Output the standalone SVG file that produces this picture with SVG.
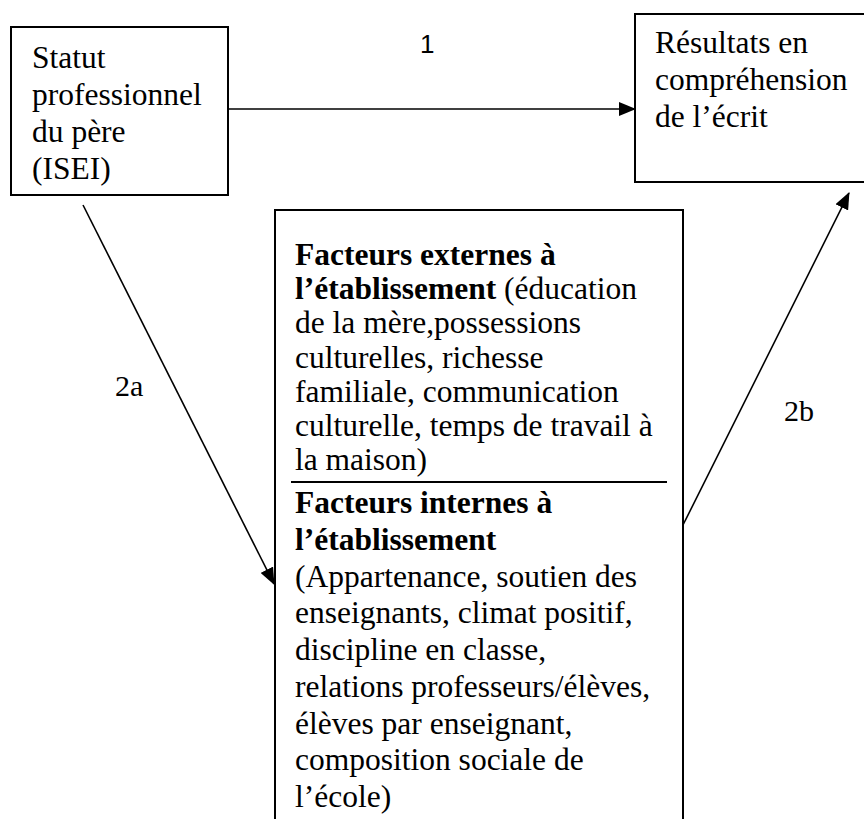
<svg xmlns="http://www.w3.org/2000/svg" width="864" height="819" viewBox="0 0 864 819">
<style>
  .box { fill: #ffffff; stroke: #000000; stroke-width: 2; }
  .t { font-family: "Liberation Serif", "Times New Roman", serif; font-size: 31.5px; fill: #000000; }
  .b { font-weight: bold; }
  .lbl { font-family: "Liberation Serif", "Times New Roman", serif; font-size: 30px; fill: #000000; }
  .edge { stroke: #000000; stroke-width: 1.6; fill: none; marker-end: url(#arr); }
</style>
<defs>
  <marker id="arr" markerUnits="userSpaceOnUse" markerWidth="17" markerHeight="14" viewBox="0 0 17 14" refX="16" refY="7" orient="auto">
    <path d="M0,0 L17,7 L0,14 Z" fill="#000000"/>
  </marker>
</defs>
<rect x="0" y="0" width="864" height="819" fill="#ffffff"/>

<g id="n-statut">
  <rect class="box" x="11" y="27" width="217" height="168"/>
  <text class="t" x="32" y="68">Statut</text>
  <text class="t" x="32" y="105">professionnel</text>
  <text class="t" x="32" y="142">du père</text>
  <text class="t" x="32" y="179">(ISEI)</text>
</g>

<g id="n-resultats">
  <rect class="box" x="635" y="14" width="260" height="168"/>
  <text class="t" x="655" y="53">Résultats en</text>
  <text class="t" x="655" y="90">compréhension</text>
  <text class="t" x="655" y="127">de l’écrit</text>
</g>

<g id="n-facteurs">
  <rect class="box" x="275" y="210" width="408" height="640"/>
  <text class="t b" x="295" y="265">Facteurs externes à</text>
  <text class="t" x="295" y="299.2"><tspan class="b">l’établissement</tspan> (éducation</text>
  <text class="t" x="295" y="333.4">de la mère,possessions</text>
  <text class="t" x="295" y="367.6">culturelles, richesse</text>
  <text class="t" x="295" y="401.8">familiale, communication</text>
  <text class="t" x="295" y="436">culturelle, temps de travail à</text>
  <text class="t" x="295" y="470.2">la maison)</text>
  <line x1="291" y1="482" x2="667" y2="482" stroke="#000000" stroke-width="2"/>
  <text class="t b" x="295" y="513">Facteurs internes à</text>
  <text class="t b" x="295" y="549.75">l’établissement</text>
  <text class="t" x="295" y="586.5">(Appartenance, soutien des</text>
  <text class="t" x="295" y="623.25">enseignants, climat positif,</text>
  <text class="t" x="295" y="660">discipline en classe,</text>
  <text class="t" x="295" y="696.75">relations professeurs/élèves,</text>
  <text class="t" x="295" y="733.5">élèves par enseignant,</text>
  <text class="t" x="295" y="770.25">composition sociale de</text>
  <text class="t" x="295" y="807">l’école)</text>
</g>

<g id="connectors">
  <line class="edge" x1="228" y1="109" x2="635" y2="109"/>
  <line class="edge" x1="83" y1="205" x2="274" y2="584"/>
  <line class="edge" x1="683" y1="525" x2="849" y2="193"/>
  <text class="lbl" x="420" y="53" style="font-family: 'Liberation Sans', Arial, sans-serif; font-size: 26px;">1</text>
  <text class="lbl" x="115" y="396">2a</text>
  <text class="lbl" x="784" y="421">2b</text>
</g>
</svg>
